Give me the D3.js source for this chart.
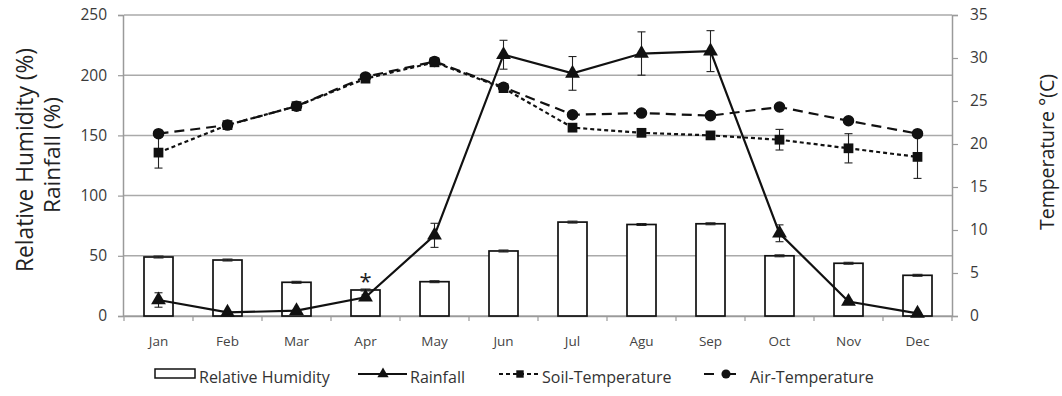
<!DOCTYPE html>
<html>
<head>
<meta charset="utf-8">
<script src="https://cdn.jsdelivr.net/npm/d3@7"></script>
<style>
  body { margin: 0; background: #fff; }
  svg { display: block; font-family: "Open Sans", sans-serif; }
</style>
</head>
<body>
<div id="chart"></div>
<script>
// monthly values
const months = ["Jan", "Feb", "Mar", "Apr", "May", "Jun", "Jul", "Agu", "Sep", "Oct", "Nov", "Dec"];
const humidity = [49, 46.5, 28, 21.6, 28.5, 54, 78, 76, 76.6, 50, 43.8, 33.8];
const humidityErr = [0.8, 0.8, 0.8, 0.8, 0.8, 0.8, 0.8, 0.8, 0.8, 0.8, 0.8, 0.8];
const rainfall = [13.3, 3, 4.4, 15.5, 67, 217, 201.5, 218, 220, 68.7, 12, 2.2];
const rainfallErr = [6, 0.5, 0.5, 2, 10, 12, 14, 18, 17, 7, 1, 0.5];
const soilTemp = [19.0, 22.2, 24.4, 27.6, 29.5, 26.5, 21.9, 21.3, 21.0, 20.5, 19.5, 18.5];
const soilErr = [1.8, 0.3, 0.3, 0.3, 0.3, 0.3, 0.3, 0.3, 0.3, 1.2, 1.7, 2.5];
const airTemp = [21.2, 22.2, 24.4, 27.8, 29.6, 26.6, 23.4, 23.6, 23.3, 24.3, 22.7, 21.2];
const leftTicks = [0, 50, 100, 150, 200, 250];
const rightTicks = [0, 5, 10, 15, 20, 25, 30, 35];

const width = 1062, height = 396;
const plot = { left: 124, right: 952, top: 15, bottom: 316 };

const svg = d3.select("#chart").append("svg")
  .attr("width", width)
  .attr("height", height);

const x = d3.scaleBand().domain(months).range([plot.left, plot.right]);
const yL = d3.scaleLinear().domain([0, 250]).range([plot.bottom, plot.top]);
const yR = d3.scaleLinear().domain([0, 35]).range([plot.bottom, plot.top]);
const cx = m => x(m) + x.bandwidth() / 2;

// shrink/grow a text until it is as long as in the figure
function fitText(sel, len) {
  const fs = +sel.attr("font-size");
  const w = sel.node().getComputedTextLength();
  sel.attr("font-size", fs * len / w);
}

// gridlines
svg.append("g").selectAll("line")
  .data(leftTicks)
  .enter().append("line")
  .attr("x1", plot.left).attr("x2", plot.right)
  .attr("y1", d => yL(d)).attr("y2", d => yL(d))
  .attr("stroke", "#aaaaaa").attr("stroke-width", 1.5);

// left axis
const gL = svg.append("g")
  .attr("transform", `translate(${plot.left - 1},0)`)
  .call(d3.axisLeft(yL).tickValues(leftTicks).tickSize(5).tickPadding(11));
// right axis
const gR = svg.append("g")
  .attr("transform", `translate(${plot.right},0)`)
  .call(d3.axisRight(yR).tickValues(rightTicks).tickSize(6).tickPadding(12));
// bottom axis, ticks between categories
const gB = svg.append("g")
  .attr("transform", `translate(0,${plot.bottom})`)
  .call(d3.axisBottom(x).tickSize(0).tickPadding(20));
gB.selectAll(".tick line").remove();
gB.selectAll(".between")
  .data(d3.range(months.length + 1))
  .enter().append("line")
  .attr("x1", i => plot.left + i * x.step())
  .attr("x2", i => plot.left + i * x.step())
  .attr("y1", 0).attr("y2", 5)
  .attr("stroke", "#9a9a9a").attr("stroke-width", 1.2);

[gL, gR, gB].forEach(g => {
  g.select(".domain").attr("stroke", "#9a9a9a").attr("stroke-width", 1.5);
  g.selectAll(".tick line").attr("stroke", "#9a9a9a").attr("stroke-width", 1.2);
  g.selectAll("text").attr("fill", "#3a3a3a").style("font-family", "'Open Sans', sans-serif");
});
gL.selectAll("text").attr("font-size", 15.5);
gR.selectAll("text").attr("font-size", 15.5);
gB.selectAll("text").attr("font-size", 13.5).attr("fill", "#444");

// bars (relative humidity)
const barW = 29;
svg.append("g").selectAll("rect")
  .data(months)
  .enter().append("rect")
  .attr("x", m => cx(m) - barW / 2)
  .attr("width", barW)
  .attr("y", (m, i) => yL(humidity[i]))
  .attr("height", (m, i) => plot.bottom - yL(humidity[i]))
  .attr("fill", "#fff").attr("stroke", "#111").attr("stroke-width", 1.7);

// error bars helper
function errorBars(vals, errs, scale, cap) {
  const g = svg.append("g").attr("stroke", "#222").attr("stroke-width", 1.1);
  months.forEach((m, i) => {
    const x0 = cx(m), y1 = scale(vals[i] + errs[i]), y2 = scale(vals[i] - errs[i]);
    g.append("line").attr("x1", x0).attr("x2", x0).attr("y1", y1).attr("y2", y2);
    g.append("line").attr("x1", x0 - cap).attr("x2", x0 + cap).attr("y1", y1).attr("y2", y1);
    g.append("line").attr("x1", x0 - cap).attr("x2", x0 + cap).attr("y1", y2).attr("y2", y2);
  });
}
errorBars(humidity, humidityErr, yL, 5);

// asterisk over April
svg.append("text")
  .attr("x", cx("Apr"))
  .attr("y", yL(humidity[3]) - 1)
  .attr("text-anchor", "middle")
  .attr("font-size", 22)
  .attr("fill", "#222")
  .text("*");

// lines
function series(vals, scale, dash) {
  const line = d3.line()
    .x((d, i) => cx(months[i]))
    .y(d => scale(d));
  svg.append("path")
    .datum(vals)
    .attr("d", line)
    .attr("fill", "none")
    .attr("stroke", "#111")
    .attr("stroke-width", 2.2)
    .attr("stroke-dasharray", dash);
}
series(airTemp, yR, "10,6");
series(soilTemp, yR, "4,3");
series(rainfall, yL, null);

errorBars(soilTemp, soilErr, yR, 4);
errorBars(rainfall, rainfallErr, yL, 4);

// markers
const tri = d3.symbol().type(d3.symbolTriangle).size(95);
const sq = d3.symbol().type(d3.symbolSquare).size(95);
const circ = d3.symbol().type(d3.symbolCircle).size(105);

svg.append("g").selectAll("path")
  .data(airTemp).enter().append("path")
  .attr("d", circ)
  .attr("transform", (d, i) => `translate(${cx(months[i])},${yR(d)})`)
  .attr("fill", "#111");
svg.append("g").selectAll("path")
  .data(soilTemp).enter().append("path")
  .attr("d", sq)
  .attr("transform", (d, i) => `translate(${cx(months[i])},${yR(d)})`)
  .attr("fill", "#111");
svg.append("g").selectAll("path")
  .data(rainfall).enter().append("path")
  .attr("d", tri)
  .attr("transform", (d, i) => `translate(${cx(months[i])},${yL(d)})`)
  .attr("fill", "#111");

// axis titles
const t1 = svg.append("text")
  .attr("transform", "translate(24,160) rotate(-90)")
  .attr("text-anchor", "middle").attr("dominant-baseline", "central")
  .attr("font-size", 19).attr("fill", "#222")
  .text("Relative Humidity (%)");
fitText(t1, 224);
const t2 = svg.append("text")
  .attr("transform", "translate(51,155) rotate(-90)")
  .attr("text-anchor", "middle").attr("dominant-baseline", "central")
  .attr("font-size", 19).attr("fill", "#222")
  .text("Rainfall (%)");
fitText(t2, 116);
const t3 = svg.append("text")
  .attr("transform", "translate(1046,152) rotate(-90)")
  .attr("text-anchor", "middle").attr("dominant-baseline", "central")
  .attr("font-size", 18).attr("fill", "#222")
  .text("Temperature °(C)");
fitText(t3, 156);

// legend
const legY = 379;
const leg = svg.append("g").attr("font-size", 16).attr("fill", "#333");
leg.append("rect").attr("x", 155).attr("y", legY - 10).attr("width", 40).attr("height", 9)
  .attr("fill", "#fff").attr("stroke", "#111").attr("stroke-width", 1.5);
leg.append("text").attr("x", 199).attr("y", legY).attr("dominant-baseline", "middle").text("Relative Humidity");

leg.append("line").attr("x1", 358).attr("x2", 407).attr("y1", legY - 5).attr("y2", legY - 5)
  .attr("stroke", "#111").attr("stroke-width", 2);
leg.append("path").attr("d", d3.symbol().type(d3.symbolTriangle).size(55))
  .attr("transform", `translate(383,${legY - 5})`).attr("fill", "#111");
leg.append("text").attr("x", 410).attr("y", legY).attr("dominant-baseline", "middle").text("Rainfall");

leg.append("line").attr("x1", 499).attr("x2", 540).attr("y1", legY - 5).attr("y2", legY - 5)
  .attr("stroke", "#111").attr("stroke-width", 2).attr("stroke-dasharray", "4,3");
leg.append("path").attr("d", d3.symbol().type(d3.symbolSquare).size(55))
  .attr("transform", `translate(520,${legY - 5})`).attr("fill", "#111");
leg.append("text").attr("x", 542).attr("y", legY).attr("dominant-baseline", "middle").text("Soil-Temperature");

leg.append("line").attr("x1", 704).attr("x2", 748).attr("y1", legY - 5).attr("y2", legY - 5)
  .attr("stroke", "#111").attr("stroke-width", 2).attr("stroke-dasharray", "10,12");
leg.append("path").attr("d", d3.symbol().type(d3.symbolCircle).size(65))
  .attr("transform", `translate(726,${legY - 5})`).attr("fill", "#111");
leg.append("text").attr("x", 750).attr("y", legY).attr("dominant-baseline", "middle").text("Air-Temperature");
</script>
</body>
</html>
